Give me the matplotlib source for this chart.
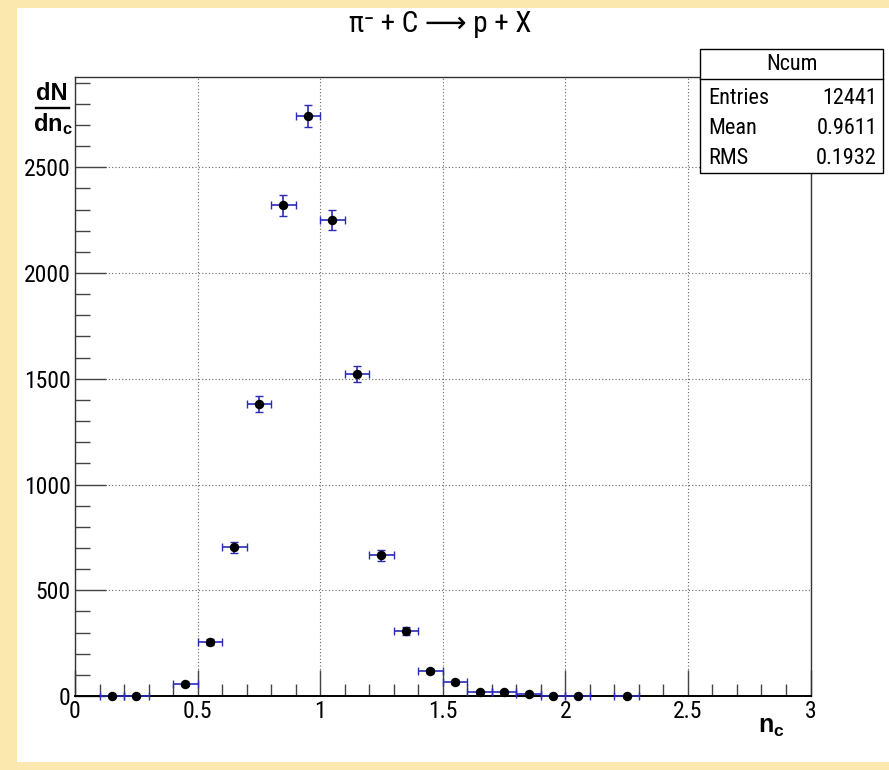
import matplotlib
matplotlib.use("Agg")
import matplotlib.pyplot as plt
import numpy as np
from matplotlib.patches import Rectangle
from matplotlib.lines import Line2D
from matplotlib.ticker import MultipleLocator

# ---- data ----
bin_centers = [0.15, 0.25, 0.45, 0.55, 0.65, 0.75, 0.85, 0.95, 1.05, 1.15,
               1.25, 1.35, 1.45, 1.55, 1.65, 1.75, 1.85, 1.95, 2.05, 2.25]
counts = [1, 1, 57, 255, 704, 1380, 2320, 2741, 2250, 1522,
          666, 307, 118, 66, 19, 19, 9, 2, 2, 2]
bin_halfwidth = 0.05
title = "π⁻ + C ⟶ p + X"
stats_name = "Ncum"
stats_labels = ["Entries", "Mean", "RMS"]
stats_values = ["12441", "0.9611", "0.1932"]
x_ticks = [0, 0.5, 1, 1.5, 2, 2.5, 3]
x_ticklabels = ["0", "0.5", "1", "1.5", "2", "2.5", "3"]
y_ticks = [0, 500, 1000, 1500, 2000, 2500]
y_ticklabels = ["0", "500", "1000", "1500", "2000", "2500"]

W, H = 889, 770
FONT = ["Liberation Sans", "DejaVu Sans"]
NFONT = ["Roboto Condensed", "Liberation Sans", "DejaVu Sans"]
plt.rcParams['font.family'] = FONT
plt.rcParams['mathtext.fontset'] = 'custom'
plt.rcParams['mathtext.rm'] = 'Liberation Sans'
plt.rcParams['mathtext.bf'] = 'Liberation Sans:bold'
plt.rcParams['mathtext.it'] = 'Liberation Sans:italic'

tick_fs = 17

fig = plt.figure(figsize=(W / 100, H / 100), dpi=100)
fig.patch.set_facecolor("#fbe8ae")

def fx(px):
    return px / W

def fy(py):
    return 1 - py / H

# white canvas
fig.patches.append(Rectangle((fx(17), fy(762)), fx(889) - fx(17), fy(8) - fy(762),
                             transform=fig.transFigure, facecolor="white",
                             edgecolor="none", zorder=-10))

L, R, T, B = 75, 810.5, 77, 696
ax = fig.add_axes([fx(L), fy(B), fx(R) - fx(L), fy(T) - fy(B)])
ax.set_zorder(1)
ax.set_xlim(0, 3)
ax.set_ylim(0, 2500 * (B - T) / (B - 167.3))

x = np.array(bin_centers)
y = np.array(counts, dtype=float)
yerr = np.sqrt(y)
ax.errorbar(x, y, xerr=bin_halfwidth, yerr=yerr, fmt="none", ecolor="#2b2bb8",
            elinewidth=1.2, capsize=3, capthick=1.0, zorder=3, clip_on=False)
ax.plot(x, y, "o", color="black", markersize=5.8, zorder=4, clip_on=False)

ax.set_xticks(x_ticks)
ax.set_xticklabels(x_ticklabels, family=NFONT, fontsize=tick_fs)
ax.set_yticks(y_ticks)
ax.set_yticklabels(y_ticklabels, family=NFONT, fontsize=tick_fs)
ax.xaxis.set_minor_locator(MultipleLocator(0.1))
ax.yaxis.set_minor_locator(MultipleLocator(100))
ax.tick_params(axis="both", which="major", direction="in", length=19, width=1.0,
               color="#444444", top=False, right=False)
ax.tick_params(axis="y", which="major", length=22)
ax.tick_params(axis="both", which="minor", direction="in", length=9, width=1.0,
               color="#444444", top=False, right=False)
ax.tick_params(axis="y", which="minor", length=11)
ax.tick_params(axis="x", which="major", pad=3)
ax.tick_params(axis="y", which="major", pad=3)
ax.grid(True, which="major", linestyle=(0, (1, 2)), color="#666666", linewidth=0.8)
for s in ax.spines.values():
    s.set_color("#333333")
    s.set_linewidth(1.0)
ax.spines["bottom"].set_color("black")
ax.spines["bottom"].set_linewidth(1.4)
ax.set_facecolor("white")

# title
fig.text(fx(440), fy(24), title, ha="center", va="center", fontsize=21, family=NFONT)

# y label (fraction)
fig.text(fx(52), fy(94), "dN", ha="center", va="center", fontsize=17,
         fontweight="bold", family=FONT)
fig.add_artist(Line2D([fx(36), fx(69)], [fy(108), fy(108)], color="black",
                      linewidth=1.7, transform=fig.transFigure))
fig.text(fx(53), fy(124), r"$\mathbf{dn_c}$", ha="center", va="center", fontsize=17)

# x label
fig.text(fx(771), fy(727), r"$\mathbf{n_c}$", ha="center", va="center", fontsize=18)

# stats box
bl, br, bt, bb, bh = 700, 883, 49, 173, 79
fig.patches.append(Rectangle((fx(bl), fy(bb)), fx(br) - fx(bl), fy(bt) - fy(bb),
                             transform=fig.transFigure, facecolor="white",
                             edgecolor="black", linewidth=1.0, zorder=5))
fig.add_artist(Line2D([fx(bl), fx(br)], [fy(bh), fy(bh)], color="black",
                      linewidth=1.0, transform=fig.transFigure, zorder=6))
sfs = 16
fig.text(fx((bl + br) / 2), fy(65), stats_name, ha="center", va="center",
         fontsize=sfs, family=NFONT, zorder=7)
row_y = [98, 128, 158]
for lab, val, ry in zip(stats_labels, stats_values, row_y):
    fig.text(fx(708), fy(ry), lab, ha="left", va="center", fontsize=sfs,
             family=NFONT, zorder=7)
    fig.text(fx(877), fy(ry), val, ha="right", va="center", fontsize=sfs,
             family=NFONT, zorder=7)

fig.savefig("out.png", dpi=100, facecolor=fig.get_facecolor())
